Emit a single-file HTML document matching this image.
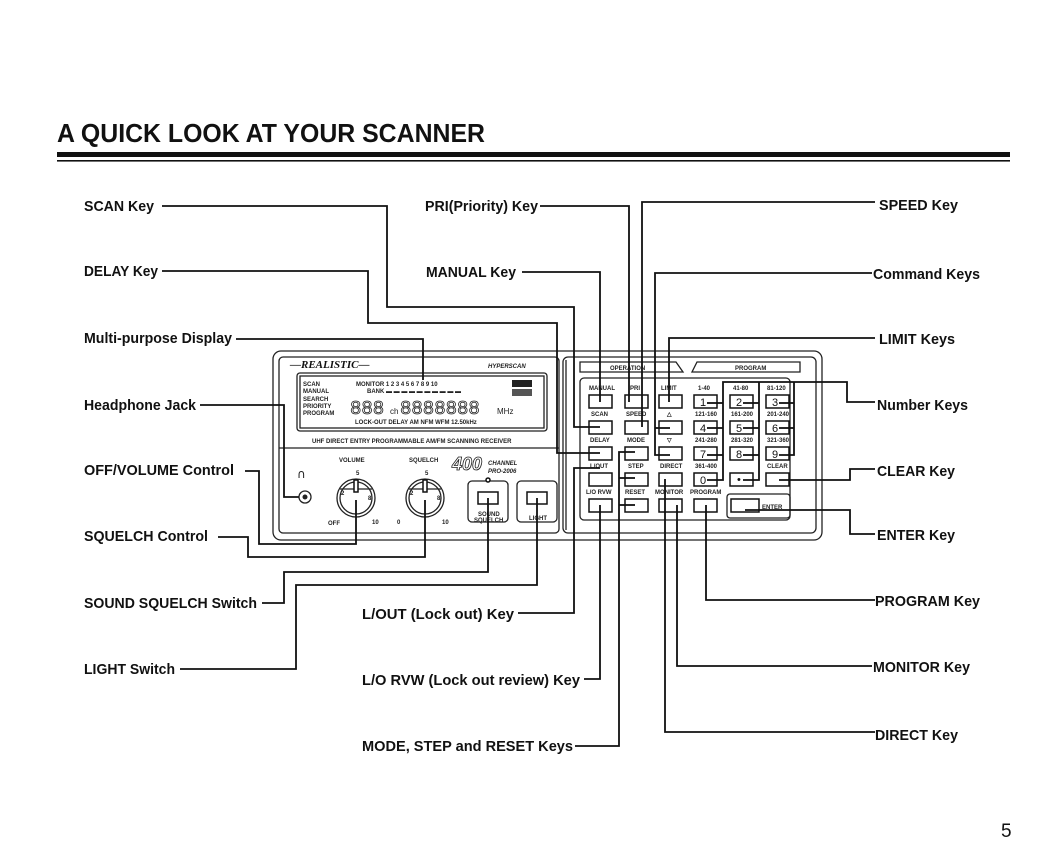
<!DOCTYPE html>
<html><head><meta charset="utf-8"><style>
html,body{margin:0;padding:0;background:#fff;}
svg{display:block;}
.l{font-family:"Liberation Sans",sans-serif;font-weight:bold;font-size:15px;fill:#111;}
.s{font-family:"Liberation Sans",sans-serif;font-weight:bold;font-size:6px;fill:#222;}
.k{fill:#fff;stroke:#111;stroke-width:1.5;}
.w{fill:none;stroke:#111;stroke-width:1.8;}
.p{fill:none;stroke:#222;stroke-width:1.3;}
</style></head><body>
<svg width="1055" height="864" viewBox="0 0 1055 864" xmlns="http://www.w3.org/2000/svg">
<text x="57" y="142" font-family="Liberation Sans, sans-serif" font-weight="bold" font-size="26" textLength="428" lengthAdjust="spacingAndGlyphs" fill="#111">A QUICK LOOK AT YOUR SCANNER</text>
<rect x="57" y="152" width="953" height="5" fill="#111"/>
<rect x="57" y="160" width="953" height="1.6" fill="#111"/>

<!-- device -->
<rect x="273" y="351" width="549" height="189" rx="8" class="p" stroke-width="2"/>
<rect x="279" y="357" width="280" height="176" rx="4" class="p"/>
<rect x="563" y="357" width="253" height="176" rx="5" class="p"/>
<line x1="566" y1="360" x2="566" y2="530" class="p"/>
<line x1="279" y1="448" x2="559" y2="448" class="p"/>
<!-- LCD -->
<rect x="297" y="373" width="250" height="58" rx="3" class="p"/>
<rect x="300" y="376" width="244" height="52" class="p" stroke-width="0.8"/>
<text x="290" y="368" font-family="Liberation Serif,serif" font-style="italic" font-weight="bold" font-size="11" fill="#111">—REALISTIC—</text>
<text x="488" y="368" class="s" font-style="italic">HYPERSCAN</text>
<text x="303" y="386" class="s">SCAN</text><text x="303" y="393" class="s">MANUAL</text><text x="303" y="401" class="s">SEARCH</text><text x="303" y="408" class="s">PRIORITY</text><text x="303" y="415" class="s">PROGRAM</text>
<text x="356" y="386" class="s">MONITOR  1  2  3  4  5  6  7  8  9  10</text>
<text x="367" y="393" class="s">BANK ▬ ▬ ▬ ▬ ▬ ▬ ▬ ▬ ▬ ▬</text>
<rect x="512" y="380" width="20" height="7" fill="#222"/><rect x="512" y="389" width="20" height="7" fill="#555"/>
<text x="350" y="414" font-family="Liberation Mono,monospace" font-size="19" fill="none" stroke="#222" stroke-width="0.8">888</text>
<text x="390" y="414" font-size="8" font-family="Liberation Sans,sans-serif" fill="#222">ch</text>
<text x="400" y="414" font-family="Liberation Mono,monospace" font-size="19" fill="none" stroke="#222" stroke-width="0.8">8888888</text>
<text x="497" y="414" font-size="8" font-family="Liberation Sans,sans-serif" fill="#222">MHz</text>
<text x="355" y="424" class="s">LOCK-OUT   DELAY          AM   NFM  WFM    12.50kHz</text>
<text x="312" y="443" class="s" font-size="5">UHF  DIRECT ENTRY PROGRAMMABLE AM/FM SCANNING RECEIVER</text>
<!-- knobs -->
<text x="339" y="462" class="s">VOLUME</text><text x="409" y="462" class="s">SQUELCH</text>
<circle cx="356" cy="498" r="19" class="p" stroke-width="1.8"/><circle cx="356" cy="498" r="16" class="p"/>
<line x1="340" y1="489" x2="372" y2="489" class="p"/><rect x="354" y="480" width="4" height="12" class="k" stroke-width="1"/>
<circle cx="425" cy="498" r="19" class="p" stroke-width="1.8"/><circle cx="425" cy="498" r="16" class="p"/>
<line x1="409" y1="489" x2="441" y2="489" class="p"/><rect x="423" y="480" width="4" height="12" class="k" stroke-width="1"/>
<text x="328" y="525" class="s">OFF</text><text x="372" y="524" class="s">10</text><text x="397" y="524" class="s">0</text><text x="442" y="524" class="s">10</text>
<text x="356" y="475" class="s">5</text><text x="425" y="475" class="s">5</text>
<text x="341" y="495" class="s">2</text><text x="368" y="500" class="s">8</text><text x="410" y="495" class="s">2</text><text x="437" y="500" class="s">8</text>
<!-- headphone -->
<text x="297" y="478" font-size="12" font-family="DejaVu Sans,sans-serif" fill="#222">∩</text>
<circle cx="305" cy="497" r="6" class="p" stroke-width="1.5"/><circle cx="305" cy="497" r="2.5" fill="#222"/>
<text x="452" y="470" font-family="Liberation Sans,sans-serif" font-style="italic" font-weight="bold" font-size="18" fill="none" stroke="#222" stroke-width="0.8">400</text>
<text x="488" y="465" class="s" font-size="8" font-style="italic">CHANNEL</text>
<text x="488" y="473" class="s" font-size="8" font-style="italic">PRO-2006</text>
<rect x="468" y="481" width="40" height="41" rx="4" class="p"/><rect x="478" y="492" width="20" height="12" class="k"/>
<circle cx="488" cy="480" r="2" class="k" stroke-width="1"/>
<text x="478" y="516" class="s">SOUND</text><text x="474" y="522" class="s">SQUELCH</text>
<rect x="517" y="481" width="40" height="41" rx="4" class="p"/><rect x="527" y="492" width="20" height="12" class="k"/>
<text x="529" y="520" class="s">LIGHT</text>
<!-- right panel -->
<path d="M580 362 H676 L683 372 H580 Z" class="p"/><text x="610" y="370" class="s">OPERATION</text>
<path d="M697 362 H800 V372 H692 Z" class="p"/><text x="735" y="370" class="s">PROGRAM</text>
<rect x="580" y="378" width="210" height="142" rx="4" class="p"/>
<g>
<!-- row labels -->
<text x="589" y="390" class="s">MANUAL</text><text x="630" y="390" class="s">PRI</text><text x="661" y="390" class="s">LIMIT</text><text x="698" y="390" class="s">1-40</text><text x="733" y="390" class="s">41-80</text><text x="767" y="390" class="s">81-120</text>
<text x="591" y="416" class="s">SCAN</text><text x="626" y="416" class="s">SPEED</text><text x="667" y="416" class="s">△</text><text x="695" y="416" class="s">121-160</text><text x="731" y="416" class="s">161-200</text><text x="767" y="416" class="s">201-240</text>
<text x="590" y="442" class="s">DELAY</text><text x="627" y="442" class="s">MODE</text><text x="667" y="442" class="s">▽</text><text x="695" y="442" class="s">241-280</text><text x="731" y="442" class="s">281-320</text><text x="767" y="442" class="s">321-360</text>
<text x="590" y="468" class="s">L/OUT</text><text x="628" y="468" class="s">STEP</text><text x="660" y="468" class="s">DIRECT</text><text x="695" y="468" class="s">361-400</text><text x="767" y="468" class="s">CLEAR</text>
<text x="586" y="494" class="s">L/O RVW</text><text x="625" y="494" class="s">RESET</text><text x="655" y="494" class="s">MONITOR</text><text x="690" y="494" class="s">PROGRAM</text>
</g>
<g>
<rect x="589" y="395" width="23" height="13" class="k"/><rect x="625" y="395" width="23" height="13" class="k"/><rect x="659" y="395" width="23" height="13" class="k"/><rect x="694" y="395" width="23" height="13" class="k"/><rect x="730" y="395" width="23" height="13" class="k"/><rect x="766" y="395" width="23" height="13" class="k"/>
<rect x="589" y="421" width="23" height="13" class="k"/><rect x="625" y="421" width="23" height="13" class="k"/><rect x="659" y="421" width="23" height="13" class="k"/><rect x="694" y="421" width="23" height="13" class="k"/><rect x="730" y="421" width="23" height="13" class="k"/><rect x="766" y="421" width="23" height="13" class="k"/>
<rect x="589" y="447" width="23" height="13" class="k"/><rect x="625" y="447" width="23" height="13" class="k"/><rect x="659" y="447" width="23" height="13" class="k"/><rect x="694" y="447" width="23" height="13" class="k"/><rect x="730" y="447" width="23" height="13" class="k"/><rect x="766" y="447" width="23" height="13" class="k"/>
<rect x="589" y="473" width="23" height="13" class="k"/><rect x="625" y="473" width="23" height="13" class="k"/><rect x="659" y="473" width="23" height="13" class="k"/><rect x="694" y="473" width="23" height="13" class="k"/><rect x="730" y="473" width="23" height="13" class="k"/><rect x="766" y="473" width="23" height="13" class="k"/>
<rect x="589" y="499" width="23" height="13" class="k"/><rect x="625" y="499" width="23" height="13" class="k"/><rect x="659" y="499" width="23" height="13" class="k"/><rect x="694" y="499" width="23" height="13" class="k"/>
<rect x="727" y="494" width="63" height="24" rx="3" class="p"/><rect x="731" y="499" width="28" height="13" class="k"/><text x="762" y="509" class="s">ENTER</text>
<g font-family="Liberation Sans,sans-serif" font-size="11" fill="#111">
<text x="700" y="406">1</text><text x="736" y="406">2</text><text x="772" y="406">3</text>
<text x="700" y="432">4</text><text x="736" y="432">5</text><text x="772" y="432">6</text>
<text x="700" y="458">7</text><text x="736" y="458">8</text><text x="772" y="458">9</text>
<text x="700" y="484">0</text><text x="737" y="483">•</text>
</g>
</g>

<!-- leader lines -->
<g class="w">
<polyline points="162,206 387,206 387,307 574,307 574,427 600,427"/>
<polyline points="162,271 368,271 368,323 557,323 557,453 600,453"/>
<polyline points="236,339 423,339 423,380"/>
<polyline points="200,405 284,405 284,497 299,497"/>
<polyline points="245,471 259,471 259,544 356,544 356,500"/>
<polyline points="218,537 248,537 248,557 425,557 425,500"/>
<polyline points="262,603 284,603 284,572 488,572 488,498"/>
<polyline points="180,669 296,669 296,585 537,585 537,498"/>
<polyline points="540,206 629,206 629,402"/>
<polyline points="522,272 600,272 600,402"/>
<polyline points="875,202 642,202 642,427"/>
<polyline points="872,273 655,273 655,455 670,455"/><line x1="655" y1="428" x2="670" y2="428"/>
<polyline points="875,338 669,338 669,402"/>
<polyline points="875,402 847,402 847,382 723,382 723,480 707,480"/>
<line x1="723" y1="403" x2="707" y2="403"/><line x1="723" y1="428" x2="707" y2="428"/><line x1="723" y1="455" x2="707" y2="455"/>
<polyline points="759,382 759,480 743,480"/>
<line x1="759" y1="403" x2="743" y2="403"/><line x1="759" y1="428" x2="743" y2="428"/><line x1="759" y1="455" x2="743" y2="455"/>
<polyline points="794,382 794,455 779,455"/>
<line x1="794" y1="403" x2="779" y2="403"/><line x1="794" y1="428" x2="779" y2="428"/>
<polyline points="875,469 850,469 850,480 779,480"/>
<polyline points="875,534 850,534 850,510 745,510"/>
<polyline points="875,600 706,600 706,505"/>
<polyline points="872,666 677,666 677,505"/>
<polyline points="875,732 665,732 665,479"/>
<polyline points="575,746 619,746 619,452 635,452"/>
<line x1="619" y1="478" x2="635" y2="478"/><line x1="619" y1="505" x2="635" y2="505"/>
<polyline points="584,679 600,679 600,505"/>
<polyline points="518,613 574,613 574,468 600,468"/>
</g>

<!-- labels -->
<text class="l" x="84" y="211" textLength="70" lengthAdjust="spacingAndGlyphs">SCAN Key</text>
<text class="l" x="84" y="276" textLength="74" lengthAdjust="spacingAndGlyphs">DELAY Key</text>
<text class="l" x="84" y="343" textLength="148" lengthAdjust="spacingAndGlyphs">Multi-purpose Display</text>
<text class="l" x="84" y="410" textLength="112" lengthAdjust="spacingAndGlyphs">Headphone Jack</text>
<text class="l" x="84" y="475" textLength="150" lengthAdjust="spacingAndGlyphs">OFF/VOLUME Control</text>
<text class="l" x="84" y="541" textLength="124" lengthAdjust="spacingAndGlyphs">SQUELCH Control</text>
<text class="l" x="84" y="608" textLength="173" lengthAdjust="spacingAndGlyphs">SOUND SQUELCH Switch</text>
<text class="l" x="84" y="674" textLength="91" lengthAdjust="spacingAndGlyphs">LIGHT Switch</text>
<text class="l" x="425" y="211" textLength="113" lengthAdjust="spacingAndGlyphs">PRI(Priority) Key</text>
<text class="l" x="426" y="277" textLength="90" lengthAdjust="spacingAndGlyphs">MANUAL Key</text>
<text class="l" x="362" y="619" textLength="152" lengthAdjust="spacingAndGlyphs">L/OUT (Lock out) Key</text>
<text class="l" x="362" y="685" textLength="218" lengthAdjust="spacingAndGlyphs">L/O RVW (Lock out review) Key</text>
<text class="l" x="362" y="751" textLength="211" lengthAdjust="spacingAndGlyphs">MODE, STEP and RESET Keys</text>
<text class="l" x="879" y="210" textLength="79" lengthAdjust="spacingAndGlyphs">SPEED Key</text>
<text class="l" x="873" y="279" textLength="107" lengthAdjust="spacingAndGlyphs">Command Keys</text>
<text class="l" x="879" y="344" textLength="76" lengthAdjust="spacingAndGlyphs">LIMIT Keys</text>
<text class="l" x="877" y="410" textLength="91" lengthAdjust="spacingAndGlyphs">Number Keys</text>
<text class="l" x="877" y="476" textLength="78" lengthAdjust="spacingAndGlyphs">CLEAR Key</text>
<text class="l" x="877" y="540" textLength="78" lengthAdjust="spacingAndGlyphs">ENTER Key</text>
<text class="l" x="875" y="606" textLength="105" lengthAdjust="spacingAndGlyphs">PROGRAM Key</text>
<text class="l" x="873" y="672" textLength="97" lengthAdjust="spacingAndGlyphs">MONITOR Key</text>
<text class="l" x="875" y="740" textLength="83" lengthAdjust="spacingAndGlyphs">DIRECT Key</text>
<text x="1001" y="837" font-family="Liberation Sans,sans-serif" font-size="19" fill="#111">5</text>
</svg>
</body></html>
